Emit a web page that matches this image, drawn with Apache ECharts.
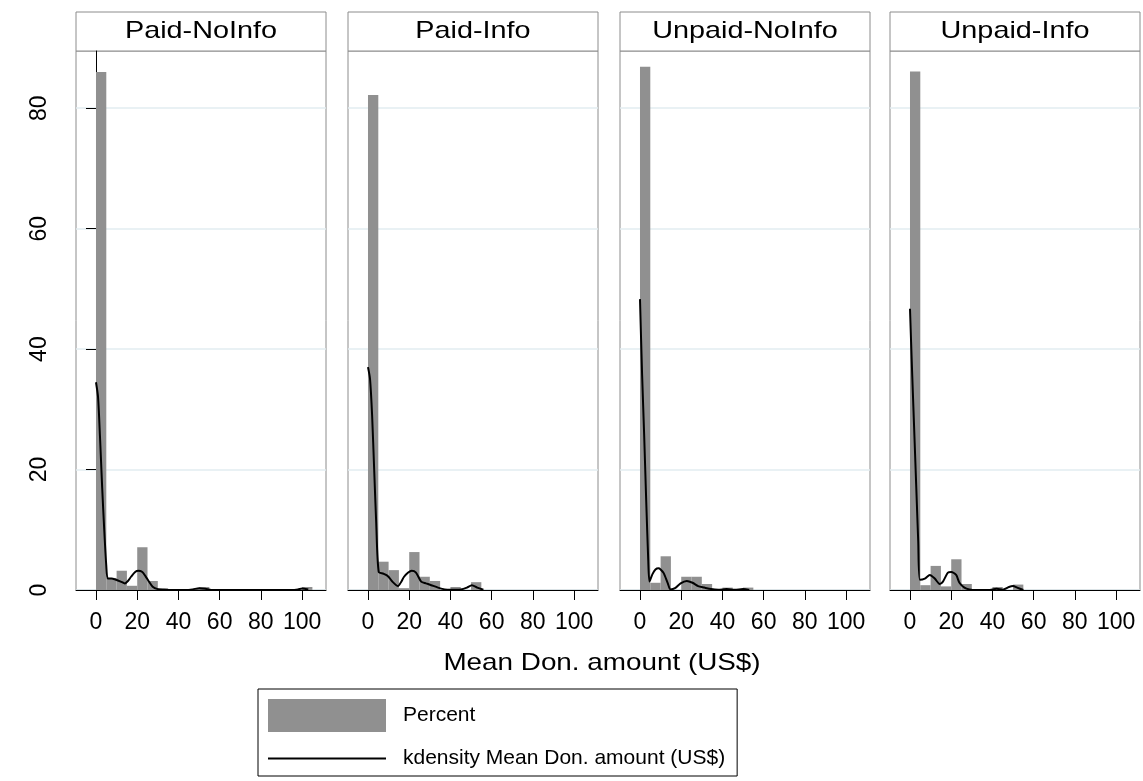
<!DOCTYPE html>
<html>
<head>
<meta charset="utf-8">
<script src="https://cdn.jsdelivr.net/npm/echarts@6/dist/echarts.min.js"></script>
<style>
html,body{margin:0;padding:0;background:#fff;}
#chart{width:1143px;height:781px;}
</style>
</head>
<body>
<div id="chart"></div>
<script>
// ---- data ----
const panelNames = ['Paid-NoInfo', 'Paid-Info', 'Unpaid-NoInfo', 'Unpaid-Info'];
const xTickLabels = [0, 20, 40, 60, 80, 100];
const yTickLabels = [0, 20, 40, 60, 80];
const binEdges = [0,5,10,15,20,25,30,35,40,45,50,55,60,65,70,75,80,85,90,95,100,105];

const pctPaidNoInfo   = [86.0, 2.0, 3.2, 0.7, 7.1, 1.5, 0.3, 0, 0, 0.2, 0.5, 0, 0, 0, 0, 0, 0, 0, 0, 0, 0.5];
const pctPaidInfo     = [82.2, 4.7, 3.3, 0.3, 6.3, 2.2, 1.5, 0, 0.5, 0, 1.3, 0, 0, 0, 0, 0, 0, 0, 0, 0, 0];
const pctUnpaidNoInfo = [86.9, 1.2, 5.6, 0, 2.2, 2.2, 1.0, 0, 0.4, 0, 0.4, 0, 0, 0, 0, 0, 0, 0, 0, 0, 0];
const pctUnpaidInfo   = [86.1, 0.8, 4.0, 0.6, 5.1, 1.0, 0, 0, 0.5, 0, 0.9, 0, 0, 0, 0, 0, 0, 0, 0, 0, 0];

const kdXPaidNoInfo = [0,1,2,3,4,5,5.7,7.5,9.7,12,14,15.5,17,19,20.5,22.5,24,25.5,27.5,30,33,36,44,47,50,53,56,95,98,100,103];
const kdYPaidNoInfo = [34.5,32,25,17,10,4,1.9,1.9,1.7,1.4,1.1,1.5,2.2,3.0,3.2,3.0,2.3,1.5,0.55,0.15,0.05,0,0,0.1,0.3,0.2,0,0,0.1,0.25,0.1];
const kdXPaidInfo = [0,1,2,3,4,5.2,7.5,9.7,11.8,14.6,16,17.5,19.5,21.2,23.3,25.8,28.2,30.7,34,37.2,40.5,45,48,50.4,53,56];
const kdYPaidInfo = [37,35,29,20,11,3.0,2.7,2.3,1.4,0.65,1.3,2.2,2.9,3.2,2.9,1.4,1.1,0.8,0.4,0.1,0.05,0.1,0.4,0.8,0.4,0.05];
const kdXUnpaidNoInfo = [0,1,2,3,4,4.6,6,7.5,9,10,11.5,13.5,14.8,17,19.7,22.7,25.5,28.2,31.2,34.5,38,42,46,50,53];
const kdYUnpaidNoInfo = [48.3,36,26,15,5,1.4,2.6,3.4,3.6,3.4,2.8,1.1,0.1,0.3,1.1,1.5,1.2,0.65,0.4,0.15,0.05,0.15,0.05,0.15,0];
const kdXUnpaidInfo = [0,1,2,3,4,4.8,7.2,9.6,12,14.4,16,18.4,20,22.4,24,26.4,28.8,32,38,42,45,48,50,52,55];
const kdYUnpaidInfo = [46.7,36.5,27,17.5,8,1.7,1.9,2.5,1.9,1.0,1.4,2.9,3.0,2.5,1.2,0.4,0.1,0,0,0.2,0.05,0.5,0.65,0.4,0];

const pctSeries = [pctPaidNoInfo, pctPaidInfo, pctUnpaidNoInfo, pctUnpaidInfo];
const kdX = [kdXPaidNoInfo, kdXPaidInfo, kdXUnpaidNoInfo, kdXUnpaidInfo];
const kdY = [kdYPaidNoInfo, kdYPaidInfo, kdYUnpaidNoInfo, kdYUnpaidInfo];

const barName = 'Percent';
const lineName = 'kdensity Mean Don. amount (US$)';
const axisTitle = 'Mean Don. amount (US$)';

// ---- layout ----
const FONT = '"Liberation Sans", Arial, Helvetica, sans-serif';
const gridLefts = [76, 348, 620, 890];
const gridW = 250, gridTop = 51, gridH = 539;
const barColor = '#909090';
const frameColor = '#8c8c8c';
const lineIcon = 'path://M0,0 L0,0 M0,15.5 L118,15.5 L118,17.5 L0,17.5 Z M118,33 L118,33';

const grids = [], xAxes = [], yAxes = [], series = [], graphics = [];
panelNames.forEach((name, i) => {
  grids.push({left: gridLefts[i], top: gridTop, width: gridW, height: gridH,
    show: true, borderColor: frameColor, borderWidth: 1, backgroundColor: '#fff'});
  xAxes.push({gridIndex: i, type: 'value', min: -9.7, max: 111.6,
    axisLine: {show: true, onZero: false, lineStyle: {color: '#000', width: 1}},
    axisTick: {show: true, length: 10, lineStyle: {color: '#000', width: 1}, customValues: xTickLabels},
    axisLabel: {show: true, customValues: xTickLabels, fontFamily: FONT, fontSize: 23, color: '#000', margin: 21},
    splitLine: {show: false}});
  yAxes.push({gridIndex: i, type: 'value', min: 0, max: 89.5, interval: 20,
    axisLine: {show: i === 0, lineStyle: {color: '#000', width: 1}},
    axisTick: {show: i === 0, length: 10, lineStyle: {color: '#000', width: 1}, customValues: yTickLabels},
    axisLabel: {show: i === 0, customValues: yTickLabels, rotate: 90, fontFamily: FONT, fontSize: 23, color: '#000', margin: 25},
    splitLine: {show: true, lineStyle: {color: '#e2edf1', width: 1.5}}});
  const bars = pctSeries[i].map((v, k) => [binEdges[k], binEdges[k + 1], v]);
  series.push({name: barName, type: 'custom', xAxisIndex: i, yAxisIndex: i,
    itemStyle: {color: barColor},
    encode: {x: [0, 1], y: 2},
    data: bars,
    renderItem: function (params, api) {
      const p0 = api.coord([api.value(0), api.value(2)]);
      const p1 = api.coord([api.value(1), 0]);
      return {type: 'rect', shape: {x: p0[0], y: p0[1], width: p1[0] - p0[0], height: p1[1] - p0[1]},
        style: {fill: barColor}};
    }, z: 2});
  series.push({name: lineName, type: 'line', xAxisIndex: i, yAxisIndex: i,
    data: kdX[i].map((x, k) => [x, kdY[i][k]]),
    showSymbol: false, symbol: 'none', smooth: 0.25,
    lineStyle: {color: '#000', width: 2}, itemStyle: {color: '#000'}, z: 3});
  graphics.push({type: 'rect', shape: {x: gridLefts[i], y: 12, width: gridW, height: 39},
    style: {fill: '#fff', stroke: frameColor, lineWidth: 1}});
  graphics.push({type: 'text', x: gridLefts[i] + gridW / 2, y: 31.5, scaleX: 1.2,
    style: {text: name, fill: '#000', font: '24px ' + FONT, textAlign: 'center', textVerticalAlign: 'middle'}});
});
graphics.push({type: 'text', x: 602, y: 663, scaleX: 1.16,
  style: {text: axisTitle, fill: '#000', font: '24px ' + FONT, textAlign: 'center', textVerticalAlign: 'middle'}});

const chart = echarts.init(document.getElementById('chart'));
chart.setOption({
  animation: false,
  backgroundColor: '#fff',
  grid: grids, xAxis: xAxes, yAxis: yAxes, series: series,
  graphic: graphics,
  legend: {left: 258, top: 689, orient: 'vertical', padding: [10, 12, 1, 10],
    itemWidth: 118, itemHeight: 33, itemGap: 10,
    borderColor: '#000', borderWidth: 1, backgroundColor: '#fff', borderRadius: 0,
    data: [{name: barName, icon: 'rect'},
           {name: lineName, icon: lineIcon, itemStyle: {color: '#000', borderWidth: 0}}],
    textStyle: {fontFamily: FONT, fontSize: 21, color: '#000', padding: [0, 0, 0, 12]}}
});
</script>
</body>
</html>
